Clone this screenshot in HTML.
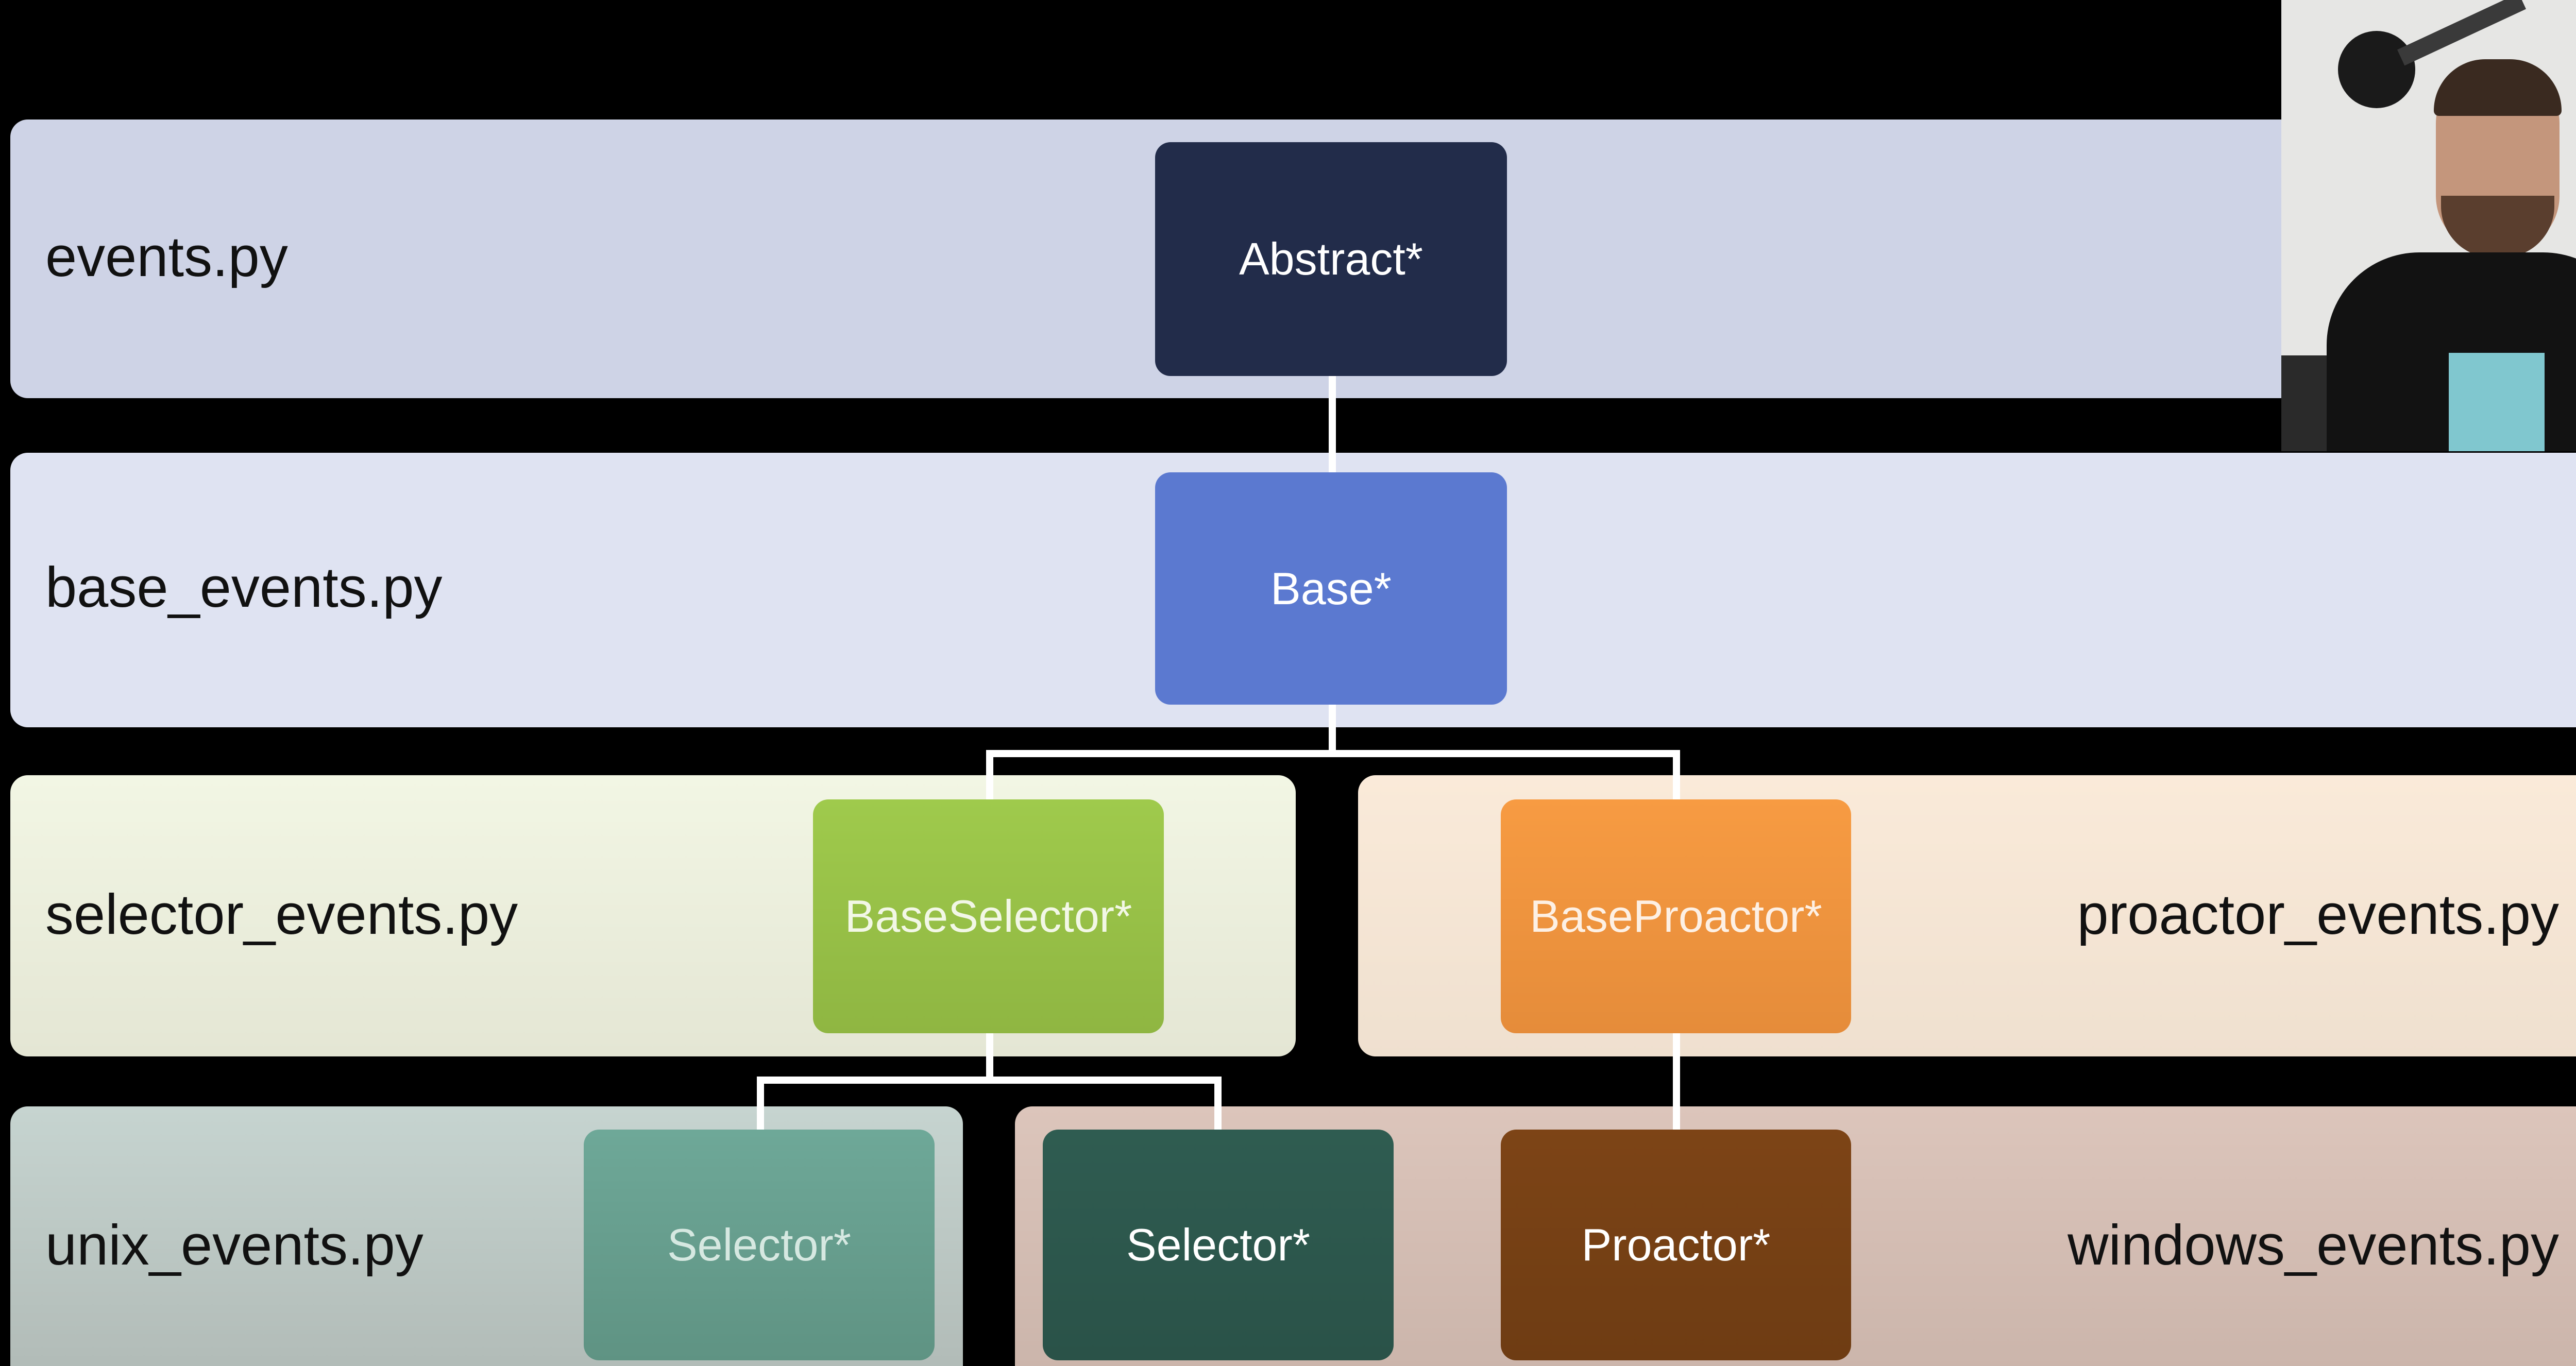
<!DOCTYPE html>
<html><head><meta charset="utf-8"><style>
html,body{margin:0;padding:0;background:#000;width:5088px;height:2652px;overflow:hidden;position:relative}
body{font-family:"Liberation Sans",sans-serif}
.b{position:absolute;border-radius:34px}
.n{position:absolute;border-radius:30px;color:#fff;font-size:88px;display:flex;align-items:center;justify-content:center}
.l{position:absolute;font-size:110px;color:#111;line-height:130px;white-space:nowrap}
.c{position:absolute;background:#fff}
</style></head><body>
<div class="b" style="left:20px;top:232px;width:4440px;height:541px;background:#ced3e6"></div>
<div class="b" style="left:20px;top:879px;width:5015px;height:533px;background:#dfe3f2"></div>
<div class="b" style="left:20px;top:1505px;width:2495px;height:546px;background:linear-gradient(#f2f6e4,#e4e6d4)"></div>
<div class="b" style="left:2636px;top:1505px;width:2399px;height:546px;background:linear-gradient(#faead9,#efe0cf)"></div>
<div class="b" style="left:20px;top:2148px;width:1849px;height:600px;background:linear-gradient(#c6d4d0,#aeb7b3)"></div>
<div class="b" style="left:1970px;top:2148px;width:3065px;height:600px;background:linear-gradient(#dcc5bb,#c8b2a8)"></div>

<div class="c" style="left:2579px;top:730px;width:14px;height:190px"></div>
<div class="c" style="left:2579px;top:1368px;width:14px;height:100px"></div>
<div class="c" style="left:1914px;top:1456px;width:1347px;height:14px"></div>
<div class="c" style="left:1914px;top:1456px;width:14px;height:100px"></div>
<div class="c" style="left:3247px;top:1456px;width:14px;height:100px"></div>
<div class="c" style="left:1914px;top:2006px;width:14px;height:98px"></div>
<div class="c" style="left:1469px;top:2090px;width:902px;height:14px"></div>
<div class="c" style="left:1469px;top:2090px;width:14px;height:105px"></div>
<div class="c" style="left:2357px;top:2090px;width:14px;height:105px"></div>
<div class="c" style="left:3247px;top:2006px;width:14px;height:190px"></div>

<div class="n" style="left:2242px;top:276px;width:683px;height:454px;background:#222c4a">Abstract*</div>
<div class="n" style="left:2242px;top:917px;width:683px;height:451px;background:#5b79d0">Base*</div>
<div class="n" style="left:1578px;top:1552px;width:681px;height:454px;background:linear-gradient(#9fca4c,#8fb642);color:#f2f7e6">BaseSelector*</div>
<div class="n" style="left:2913px;top:1552px;width:680px;height:454px;background:linear-gradient(#f79b42,#e58c3a);color:#fdf0e4">BaseProactor*</div>
<div class="n" style="left:1133px;top:2193px;width:681px;height:448px;background:linear-gradient(#6ea898,#5f9383);color:#d6e8e1">Selector*</div>
<div class="n" style="left:2024px;top:2193px;width:681px;height:448px;background:linear-gradient(#2f5c51,#2a5248)">Selector*</div>
<div class="n" style="left:2913px;top:2193px;width:680px;height:448px;background:linear-gradient(#7d4416,#6e3c13)">Proactor*</div>

<div class="l" style="left:88px;top:434px">events.py</div>
<div class="l" style="left:88px;top:1076px">base_events.py</div>
<div class="l" style="left:88px;top:1711px">selector_events.py</div>
<div class="l" style="right:121px;top:1711px">proactor_events.py</div>
<div class="l" style="left:88px;top:2353px">unix_events.py</div>
<div class="l" style="right:121px;top:2353px">windows_events.py</div>

<div style="position:absolute;left:4428px;top:0;width:660px;height:876px;background:#e6e6e4;overflow:hidden">
 <div style="position:absolute;left:0;top:690px;width:200px;height:186px;background:#2a2a2a"></div>
 <div style="position:absolute;left:110px;top:60px;width:150px;height:150px;border-radius:50%;background:#1a1a1a"></div>
 <div style="position:absolute;left:220px;top:40px;width:260px;height:34px;background:#3a3a3a;transform:rotate(-25deg)"></div>
 <div style="position:absolute;left:578px;top:321px;width:120px;height:240px;border-radius:60px;background:#1a1a1a"></div>
 <div style="position:absolute;left:300px;top:130px;width:240px;height:360px;border-radius:110px;background:#c4967c"></div>
 <div style="position:absolute;left:296px;top:115px;width:248px;height:110px;border-radius:100px 100px 10px 10px;background:#3a2a20"></div>
 <div style="position:absolute;left:310px;top:380px;width:220px;height:120px;border-radius:0 0 100px 100px;background:#5a3e2e"></div>
 <div style="position:absolute;left:88px;top:490px;width:600px;height:420px;border-radius:180px 180px 0 0;background:#121212"></div>
 <div style="position:absolute;left:325px;top:685px;width:186px;height:191px;background:#80c7cf"></div>
</div>
</body></html>
